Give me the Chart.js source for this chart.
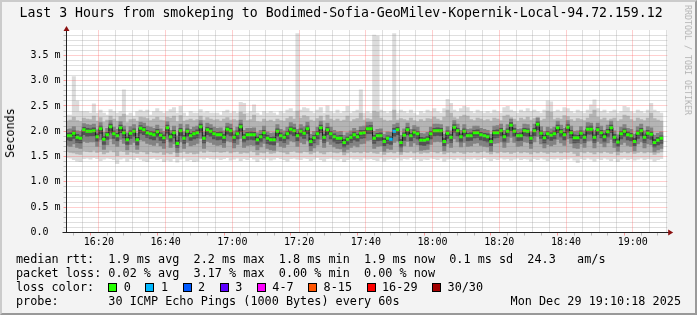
<!DOCTYPE html>
<html><head><meta charset="utf-8">
<script src="https://cdn.jsdelivr.net/npm/chart.js@4.4.1/dist/chart.umd.min.js"></script>
<style>
html,body{margin:0;padding:0;background:#f3f3f3;}
#wrap{position:relative;width:697px;height:315px;overflow:hidden;font-family:"DejaVu Sans Mono",monospace;color:#000;background:#f3f3f3;}
#c{position:absolute;left:0;top:0;}
.t{position:absolute;white-space:pre;font-size:11.8px;line-height:14px;}
#title{position:absolute;left:19.5px;top:5px;font-size:13.2px;line-height:16px;white-space:pre;}
#ytitle{position:absolute;left:10px;top:132.5px;transform:translate(-50%,-50%) rotate(-90deg);font-size:11.8px;white-space:pre;}
#rrd{position:absolute;left:688px;top:60px;transform:translate(-50%,-50%) rotate(90deg);font-size:8.3px;color:#b4b4b4;white-space:pre;}
#lossrow{position:absolute;left:16px;top:280px;height:14px;display:flex;align-items:center;font-size:11.8px;white-space:pre;}
.box{display:inline-block;width:7px;height:7px;border:1px solid #000;margin-left:0;margin-right:6.5px;}
.lbl{margin-right:14.5px;}
#frame{position:absolute;left:0;top:0;width:697px;height:315px;box-sizing:border-box;border-left:2px solid #cbcbcb;border-top:2px solid #cbcbcb;border-right:2px solid #999;border-bottom:2px solid #999;pointer-events:none;}
</style></head>
<body>
<div id="wrap">
<canvas id="c" width="697" height="315"></canvas>
<div id="title">Last 3 Hours from smokeping to Bodimed-Sofia-GeoMilev-Kopernik-Local-94.72.159.12</div>
<div id="ytitle">Seconds</div>
<div id="rrd">RRDTOOL / TOBI OETIKER</div>
<div class="t" style="left:16px;top:252px;">median rtt:  1.9 ms avg  2.2 ms max  1.8 ms min  1.9 ms now  0.1 ms sd  24.3   am/s</div>
<div class="t" style="left:16px;top:266px;">packet loss: 0.02 % avg  3.17 % max  0.00 % min  0.00 % now</div>
<div id="lossrow"></div>
<div class="t" style="left:16px;top:294px;">probe:       30 ICMP Echo Pings (1000 Bytes) every 60s</div>
<div class="t" style="right:16px;top:294px;">Mon Dec 29 19:10:18 2025</div>
<div id="frame"></div>
</div>
<script>
// ---- data (minutes after 16:00; one bin per minute, first bin 16:10) ----
const FIRST_BIN = 10;
const X_MIN = 10.3, X_MAX = 190.3;   // 16:10:18 .. 19:10:18
// median rtt (ms)
const median = [
1.91,1.91,1.96,1.88,1.86,2.03,2.00,2.00,2.01,1.89,
2.05,1.84,1.93,2.09,1.95,1.91,2.07,1.97,1.83,1.96,
2.00,1.83,2.06,2.03,1.97,1.95,1.93,1.99,1.92,1.87,
2.07,1.89,1.97,1.76,2.01,1.86,2.00,1.91,1.95,1.97,
2.09,1.86,2.03,2.00,1.95,1.93,1.93,1.88,2.04,2.01,
1.88,1.95,2.09,1.88,1.93,1.93,1.93,1.83,1.89,1.97,
1.86,1.83,1.83,2.00,1.91,1.88,1.95,2.04,2.01,1.91,
2.00,1.96,2.05,1.80,1.87,1.95,2.07,1.88,2.03,1.95,
1.89,1.86,1.86,1.78,1.84,1.88,1.93,1.89,1.96,1.97,
2.05,2.05,1.86,1.91,1.91,1.80,1.86,1.84,2.00,2.03,
1.78,1.92,2.03,1.91,1.98,1.95,1.82,1.82,1.84,1.95,
2.01,2.01,2.01,1.80,1.96,1.88,2.08,2.01,1.89,2.00,
1.91,1.91,1.97,1.97,1.93,1.91,1.89,1.80,1.97,1.97,
2.01,1.89,2.00,2.12,2.00,1.91,1.91,2.01,2.00,1.86,
2.01,2.14,1.96,1.87,1.95,1.92,1.95,2.07,1.99,1.93,
2.08,1.97,1.87,1.87,1.96,1.88,2.04,2.04,1.88,2.03,
1.97,1.89,1.99,2.07,1.88,1.79,1.95,2.00,1.93,1.91,
1.80,1.96,2.01,1.88,1.96,1.94,1.78,1.82,1.86];
// smoke: outer band (lightest)
const smokeOuterHi = [
2.32,2.32,3.08,2.60,2.39,2.39,2.39,2.36,2.54,2.36,
2.42,2.36,2.32,2.43,2.39,2.36,2.39,2.82,2.32,2.36,
2.30,2.39,2.42,2.39,2.42,2.32,2.39,2.45,2.39,2.36,
2.39,2.43,2.47,2.36,2.49,2.36,2.30,2.39,2.36,2.36,
2.43,2.37,2.39,2.36,2.36,2.36,2.32,2.39,2.42,2.36,
2.39,2.36,2.57,2.55,2.36,2.39,2.52,2.36,2.32,2.39,
2.36,2.39,2.36,2.32,2.39,2.36,2.42,2.45,2.39,3.93,
2.42,2.47,2.45,2.39,2.36,2.42,2.47,2.36,2.50,2.39,
2.36,2.42,2.36,2.39,2.49,2.36,2.39,2.42,2.82,2.36,
2.39,2.36,3.90,3.88,2.42,2.39,2.36,2.39,3.93,2.36,
2.42,2.39,2.36,2.42,2.36,2.32,2.39,2.36,2.42,2.39,
2.45,2.39,2.36,2.45,2.63,2.55,2.42,2.39,2.45,2.49,
2.47,2.39,2.36,2.42,2.39,2.36,2.39,2.36,2.42,2.39,
2.36,2.47,2.49,2.42,2.39,2.36,2.42,2.39,2.45,2.39,
2.42,2.39,2.36,2.42,2.60,2.58,2.39,2.42,2.39,2.47,
2.45,2.39,2.36,2.42,2.39,2.36,2.42,2.52,2.62,2.45,
2.39,2.42,2.36,2.39,2.42,2.36,2.39,2.49,2.47,2.39,
2.36,2.42,2.39,2.36,2.42,2.55,2.42,2.39,2.36];
const smokeOuterLo = [
1.48,1.47,1.44,1.41,1.40,1.46,1.47,1.45,1.48,1.46,
1.42,1.45,1.47,1.46,1.44,1.36,1.45,1.47,1.41,1.46,
1.44,1.48,1.45,1.42,1.40,1.46,1.47,1.44,1.46,1.40,
1.43,1.41,1.46,1.39,1.45,1.47,1.42,1.44,1.40,1.41,
1.47,1.45,1.48,1.46,1.45,1.47,1.44,1.46,1.48,1.43,
1.45,1.47,1.42,1.46,1.44,1.48,1.45,1.40,1.46,1.44,
1.47,1.43,1.45,1.48,1.46,1.44,1.41,1.46,1.47,1.45,
1.44,1.47,1.46,1.42,1.45,1.48,1.44,1.41,1.46,1.47,
1.45,1.43,1.46,1.40,1.44,1.47,1.45,1.46,1.43,1.47,
1.45,1.46,1.44,1.42,1.47,1.41,1.45,1.46,1.44,1.47,
1.43,1.46,1.45,1.48,1.44,1.46,1.42,1.45,1.44,1.47,
1.46,1.44,1.47,1.41,1.45,1.46,1.44,1.47,1.45,1.43,
1.46,1.45,1.47,1.44,1.46,1.48,1.45,1.42,1.46,1.44,
1.47,1.45,1.46,1.43,1.45,1.47,1.44,1.46,1.45,1.41,
1.46,1.44,1.47,1.45,1.42,1.46,1.45,1.47,1.44,1.46,
1.45,1.47,1.43,1.38,1.46,1.44,1.47,1.45,1.41,1.46,
1.44,1.47,1.45,1.42,1.46,1.40,1.45,1.47,1.44,1.46,
1.43,1.45,1.47,1.44,1.46,1.45,1.41,1.44,1.46];
// smoke: middle band
const smokeMidHi = [
2.20,2.22,2.28,2.21,2.19,2.26,2.24,2.23,2.30,2.20,
2.27,2.18,2.22,2.30,2.24,2.20,2.29,2.34,2.17,2.23,
2.24,2.20,2.28,2.27,2.25,2.21,2.24,2.28,2.22,2.21,
2.28,2.26,2.30,2.19,2.31,2.20,2.22,2.24,2.21,2.23,
2.30,2.22,2.27,2.24,2.22,2.23,2.20,2.24,2.27,2.22,
2.23,2.21,2.38,2.34,2.21,2.23,2.32,2.19,2.18,2.24,
2.20,2.22,2.19,2.24,2.21,2.20,2.25,2.29,2.24,2.40,
2.26,2.31,2.29,2.22,2.20,2.25,2.30,2.21,2.32,2.24,
2.21,2.24,2.20,2.22,2.30,2.19,2.23,2.25,2.36,2.22,
2.25,2.23,2.40,2.38,2.26,2.22,2.20,2.21,2.42,2.22,
2.25,2.23,2.21,2.26,2.21,2.19,2.23,2.20,2.25,2.24,
2.28,2.24,2.21,2.28,2.42,2.36,2.27,2.24,2.29,2.32,
2.30,2.23,2.21,2.26,2.24,2.21,2.23,2.20,2.26,2.24,
2.21,2.30,2.32,2.27,2.24,2.20,2.26,2.23,2.28,2.22,
2.25,2.28,2.21,2.24,2.40,2.38,2.23,2.26,2.24,2.31,
2.29,2.23,2.20,2.25,2.23,2.21,2.26,2.34,2.42,2.28,
2.23,2.26,2.21,2.24,2.26,2.20,2.23,2.32,2.30,2.23,
2.20,2.26,2.23,2.21,2.26,2.36,2.25,2.22,2.20];
const smokeMidLo = [
1.60,1.58,1.57,1.55,1.54,1.61,1.60,1.59,1.62,1.58,
1.60,1.55,1.58,1.62,1.59,1.52,1.61,1.60,1.54,1.59,
1.58,1.56,1.60,1.59,1.55,1.60,1.58,1.57,1.59,1.54,
1.57,1.55,1.59,1.50,1.58,1.60,1.56,1.58,1.55,1.56,
1.61,1.58,1.62,1.60,1.59,1.60,1.58,1.59,1.61,1.57,
1.59,1.60,1.56,1.58,1.57,1.61,1.59,1.53,1.58,1.57,
1.60,1.56,1.57,1.61,1.59,1.58,1.55,1.60,1.61,1.58,
1.57,1.60,1.59,1.55,1.58,1.61,1.57,1.55,1.59,1.60,
1.58,1.57,1.59,1.53,1.57,1.60,1.58,1.59,1.57,1.60,
1.58,1.60,1.57,1.56,1.60,1.54,1.58,1.59,1.57,1.60,
1.54,1.59,1.58,1.61,1.57,1.59,1.56,1.58,1.57,1.60,
1.59,1.57,1.60,1.55,1.58,1.59,1.57,1.60,1.58,1.56,
1.59,1.58,1.60,1.57,1.59,1.61,1.58,1.55,1.59,1.57,
1.60,1.58,1.59,1.56,1.58,1.60,1.57,1.59,1.58,1.55,
1.59,1.57,1.60,1.58,1.56,1.59,1.58,1.60,1.57,1.59,
1.58,1.60,1.56,1.52,1.59,1.57,1.60,1.58,1.55,1.59,
1.57,1.60,1.58,1.56,1.59,1.53,1.58,1.60,1.57,1.59,
1.56,1.58,1.60,1.57,1.59,1.58,1.54,1.57,1.59];
// smoke: inner band
const smokeInnerHi = [
2.04,2.05,2.09,2.01,2.00,2.15,2.13,2.12,2.14,2.03,
2.17,1.98,2.06,2.21,2.08,2.04,2.19,2.10,1.97,2.09,
2.13,1.96,2.18,2.16,2.10,2.08,2.06,2.12,2.05,2.00,
2.19,2.02,2.10,1.91,2.14,1.99,2.13,2.04,2.08,2.10,
2.21,1.99,2.16,2.13,2.08,2.06,2.07,2.01,2.16,2.14,
2.01,2.08,2.22,2.02,2.06,2.06,2.07,1.97,2.02,2.10,
1.99,1.96,1.97,2.13,2.04,2.01,2.08,2.17,2.14,2.04,
2.13,2.09,2.18,1.94,2.00,2.08,2.20,2.01,2.16,2.08,
2.02,1.99,2.00,1.92,1.97,2.01,2.06,2.02,2.09,2.10,
2.18,2.18,2.00,2.04,2.05,1.94,1.99,1.98,2.13,2.16,
1.92,2.05,2.16,2.04,2.11,2.08,1.96,1.95,1.98,2.08,
2.14,2.14,2.13,1.94,2.09,2.01,2.21,2.14,2.02,2.13,
2.04,2.05,2.10,2.10,2.06,2.04,2.02,1.94,2.10,2.11,
2.14,2.02,2.13,2.24,2.13,2.04,2.05,2.14,2.13,1.99,
2.14,2.26,2.09,2.00,2.08,2.05,2.08,2.20,2.12,2.06,
2.21,2.10,2.00,2.01,2.09,2.01,2.17,2.16,2.01,2.16,
2.10,2.02,2.12,2.20,2.01,1.93,2.08,2.13,2.06,2.04,
1.94,2.09,2.14,2.01,2.09,2.07,1.92,1.96,1.99];
const smokeInnerLo = [
1.72,1.70,1.75,1.68,1.66,1.80,1.78,1.79,1.79,1.70,
1.83,1.64,1.73,1.85,1.75,1.70,1.84,1.76,1.63,1.74,
1.78,1.64,1.83,1.81,1.76,1.74,1.72,1.77,1.71,1.66,
1.84,1.68,1.75,1.58,1.79,1.66,1.78,1.71,1.73,1.76,
1.86,1.66,1.80,1.78,1.74,1.72,1.73,1.68,1.81,1.79,
1.67,1.74,1.86,1.68,1.72,1.73,1.72,1.63,1.69,1.76,
1.66,1.63,1.62,1.78,1.70,1.68,1.74,1.81,1.79,1.70,
1.78,1.75,1.82,1.61,1.67,1.73,1.84,1.68,1.80,1.74,
1.69,1.66,1.65,1.59,1.64,1.68,1.72,1.69,1.75,1.76,
1.82,1.83,1.66,1.70,1.71,1.60,1.66,1.64,1.78,1.81,
1.59,1.71,1.80,1.70,1.77,1.73,1.62,1.63,1.64,1.74,
1.79,1.80,1.79,1.61,1.75,1.68,1.85,1.79,1.69,1.78,
1.70,1.71,1.76,1.77,1.72,1.70,1.69,1.60,1.76,1.77,
1.79,1.68,1.78,1.88,1.78,1.70,1.71,1.79,1.78,1.66,
1.79,1.90,1.75,1.67,1.74,1.71,1.74,1.84,1.77,1.72,
1.85,1.76,1.67,1.66,1.75,1.68,1.81,1.82,1.67,1.80,
1.76,1.69,1.77,1.84,1.68,1.60,1.74,1.78,1.72,1.70,
1.61,1.75,1.79,1.67,1.75,1.73,1.59,1.63,1.66];
// smoke: core band (darkest)
const smokeCoreHi = [
1.96,1.97,2.01,1.94,1.91,2.08,2.06,2.05,2.07,1.95,
2.10,1.90,1.98,2.14,2.01,1.96,2.12,2.03,1.89,2.01,
2.05,1.88,2.11,2.08,2.02,2.00,1.99,2.04,1.97,1.93,
2.12,1.95,2.02,1.82,2.06,1.92,2.05,1.96,2.00,2.03,
2.14,1.92,2.08,2.06,2.00,1.98,1.99,1.94,2.09,2.06,
1.93,2.01,2.14,1.94,1.98,1.99,1.98,1.89,1.94,2.02,
1.92,1.88,1.89,2.05,1.97,1.93,2.00,2.09,2.07,1.96,
2.05,2.01,2.10,1.86,1.92,2.00,2.12,1.94,2.08,2.00,
1.95,1.91,1.92,1.84,1.89,1.93,1.99,1.94,2.02,2.02,
2.10,2.11,1.92,1.96,1.97,1.86,1.91,1.90,2.06,2.08,
1.84,1.97,2.08,1.96,2.03,2.00,1.88,1.87,1.90,2.00,
2.06,2.07,2.06,1.86,2.01,1.94,2.13,2.06,1.95,2.05,
1.96,1.97,2.02,2.03,1.98,1.96,1.95,1.86,2.02,2.03,
2.06,1.94,2.05,2.17,2.06,1.96,1.97,2.06,2.05,1.92,
2.06,2.19,2.01,1.92,2.00,1.97,2.01,2.12,2.04,1.98,
2.13,2.02,1.93,1.92,2.01,1.94,2.09,2.10,1.93,2.08,
2.02,1.95,2.04,2.12,1.94,1.85,2.00,2.05,1.99,1.96,
1.86,2.01,2.06,1.93,2.02,1.99,1.84,1.88,1.91];
const smokeCoreLo = [
1.83,1.81,1.86,1.78,1.77,1.93,1.90,1.91,1.91,1.80,
1.95,1.74,1.84,1.98,1.86,1.81,1.97,1.87,1.74,1.86,
1.90,1.73,1.96,1.93,1.88,1.85,1.83,1.89,1.82,1.77,
1.96,1.79,1.87,1.68,1.91,1.76,1.90,1.82,1.85,1.87,
1.98,1.77,1.93,1.90,1.85,1.83,1.84,1.78,1.94,1.91,
1.78,1.85,1.99,1.79,1.83,1.84,1.83,1.74,1.79,1.87,
1.76,1.74,1.73,1.90,1.81,1.78,1.85,1.94,1.91,1.81,
1.90,1.86,1.95,1.71,1.77,1.85,1.97,1.78,1.93,1.85,
1.79,1.76,1.77,1.69,1.74,1.78,1.83,1.80,1.86,1.87,
1.95,1.95,1.76,1.81,1.82,1.71,1.76,1.74,1.90,1.93,
1.69,1.82,1.93,1.81,1.88,1.85,1.73,1.72,1.75,1.85,
1.91,1.92,1.91,1.71,1.86,1.78,1.98,1.91,1.79,1.90,
1.81,1.82,1.87,1.88,1.83,1.81,1.79,1.71,1.87,1.88,
1.91,1.79,1.90,2.01,1.90,1.81,1.82,1.91,1.90,1.76,
1.91,2.03,1.86,1.77,1.85,1.82,1.85,1.97,1.89,1.83,
1.98,1.87,1.77,1.78,1.86,1.78,1.94,1.94,1.78,1.93,
1.87,1.79,1.89,1.97,1.78,1.70,1.85,1.90,1.83,1.81,
1.71,1.86,1.91,1.78,1.86,1.84,1.69,1.73,1.76];
// lost pings per bin (all others 0)
const lossBins = [107, 108];
const lossCounts = [1, 1];
// loss colour legend
const lossLegendLabels = ['0','1','2','3','4-7','8-15','16-29','30/30'];
const lossLegendColors = ['#26ff00','#00b8ff','#0059ff','#5e00ff','#ff00ff','#ff5500','#ff0000','#a10000'];
// axis ticks
const xGridMinutes = [15,20,25,30,35,40,45,50,55,60,65,70,75,80,85,90,95,100,105,110,115,120,125,130,135,140,145,150,155,160,165,170,175,180,185,190];
const xTickMinutes = [20,40,60,80,100,120,140,160,180];
const xTickLabels = ['16:20','16:40','17:00','17:20','17:40','18:00','18:20','18:40','19:00'];
const yGridValues = [0.1,0.2,0.3,0.4,0.5,0.6,0.7,0.8,0.9,1.0,1.1,1.2,1.3,1.4,1.5,1.6,1.7,1.8,1.9,2.0,2.1,2.2,2.3,2.4,2.5,2.6,2.7,2.8,2.9,3.0,3.1,3.2,3.3,3.4,3.5,3.6,3.7,3.8,3.9];
const yTickValues = [0,0.5,1.0,1.5,2.0,2.5,3.0,3.5];
const yTickLabels = ['0.0  ','0.5 m','1.0 m','1.5 m','2.0 m','2.5 m','3.0 m','3.5 m'];

// ---- legend row (loss colours) ----
const row = document.getElementById('lossrow');
row.innerHTML = '<span>loss color:  </span>' + lossLegendLabels.map((l,i)=>
  '<span class="box" style="background:'+lossLegendColors[i]+'"></span><span class="lbl">'+l+'</span>').join('');

// ---- chart ----
const xs = median.map((_, i) => FIRST_BIN + i + 0.5);
const band = (lo, hi) => lo.map((l, i) => ({x: xs[i], y: [l, hi[i]]}));
function lossColor(i){
  const k = lossBins.indexOf(FIRST_BIN + i);
  const n = k < 0 ? 0 : lossCounts[k];
  let idx = 0;
  if (n >= 30) idx = 7; else if (n >= 16) idx = 6; else if (n >= 8) idx = 5; else if (n >= 4) idx = 4; else idx = n;
  return lossLegendColors[idx];
}
const barCommon = {type:'bar', grouped:false, barPercentage:1, categoryPercentage:1, borderWidth:0};
const RED = 'rgba(255,80,80,0.55)', GREY = 'rgba(140,140,140,0.55)';
const isMajorX = v => xTickMinutes.includes(v);
const isMajorY = v => yTickValues.some(t => Math.abs(t - v) < 1e-6);
const align = p => Math.round(p - 0.5) + 0.5;
const bgPlugin = {
  id:'bg',
  beforeDraw(chart){
    const {ctx, chartArea:a} = chart;
    ctx.save(); ctx.fillStyle = '#ffffff';
    ctx.fillRect(a.left, a.top, a.right - a.left, a.bottom - a.top);
    ctx.restore();
  },
  afterDatasetsDraw(chart){
    const {ctx, chartArea:a, scales:{x:xS, y:yS}} = chart;
    ctx.save(); ctx.lineWidth = 1; ctx.setLineDash([1,1]);
    yS.ticks.forEach(t => {
      const py = align(yS.getPixelForValue(t.value));
      ctx.strokeStyle = isMajorY(t.value) ? RED : GREY;
      ctx.beginPath(); ctx.moveTo(a.left, py); ctx.lineTo(a.right, py); ctx.stroke();
    });
    xS.ticks.forEach(t => {
      const px = align(xS.getPixelForValue(t.value));
      ctx.strokeStyle = isMajorX(t.value) ? RED : GREY;
      ctx.beginPath(); ctx.moveTo(px, a.bottom); ctx.lineTo(px, a.top); ctx.stroke();
    });
    ctx.restore();
  },
  afterDraw(chart){
    const {ctx, chartArea:a} = chart;
    ctx.save();
    ctx.strokeStyle = '#222222'; ctx.lineWidth = 1;
    const ax = Math.floor(a.left) + 0.5, ay = Math.floor(a.bottom) + 0.5;
    ctx.beginPath(); ctx.moveTo(ax, ay); ctx.lineTo(ax, a.top - 1); ctx.stroke();
    ctx.beginPath(); ctx.moveTo(ax - 4, ay); ctx.lineTo(a.right + 2, ay); ctx.stroke();
    ctx.fillStyle = '#8b1010';
    ctx.beginPath(); ctx.moveTo(ax - 3, a.top + 1); ctx.lineTo(ax + 3, a.top + 1); ctx.lineTo(ax, a.top - 4); ctx.closePath(); ctx.fill();
    ctx.beginPath(); ctx.moveTo(a.right + 1, ay - 3); ctx.lineTo(a.right + 1, ay + 3); ctx.lineTo(a.right + 6, ay); ctx.closePath(); ctx.fill();
    ctx.restore();
  }
};
new Chart(document.getElementById('c'), {
  data: {datasets: [
    {...barCommon, data: band(smokeOuterLo, smokeOuterHi), backgroundColor:'#dcdcdc', order:6},
    {...barCommon, data: band(smokeMidLo, smokeMidHi), backgroundColor:'#b4b4b4', order:5},
    {...barCommon, data: band(smokeInnerLo, smokeInnerHi), backgroundColor:'#828282', order:4},
    {...barCommon, data: band(smokeCoreLo, smokeCoreHi), backgroundColor:'#525252', order:3},
    {type:'line', data: median.map((v,i)=>({x:xs[i], y:v})), stepped:'middle', borderColor:'#1a1a1a', borderWidth:1, pointRadius:0, order:2},
    {type:'line', data: median.map((v,i)=>({x:xs[i], y:v})), showLine:false, pointStyle:'line', pointRadius:1.75, pointBorderWidth:3,
      pointBorderColor: c => lossColor(c.dataIndex), pointBackgroundColor: c => lossColor(c.dataIndex), order:1}
  ]},
  options: {
    responsive:false, animation:false, devicePixelRatio:1,
    layout:{padding:{top:30, right:29.8, left:0, bottom:0}},
    plugins:{legend:{display:false}, tooltip:{enabled:false}},
    scales:{
      x:{type:'linear', min:X_MIN, max:X_MAX, offset:false, z:1,
        afterBuildTicks: s => { s.ticks = xGridMinutes.map(v => ({value:v})); },
        afterFit: s => { s.height = 82.5; },
        ticks:{autoSkip:false, maxRotation:0, padding:1, color:'#000', font:{family:'DejaVu Sans Mono', size:10},
          callback: v => { const k = xTickMinutes.indexOf(v); return k < 0 ? '' : xTickLabels[k]; }},
        grid:{drawOnChartArea:false, color: c => (c.tick && isMajorX(c.tick.value)) ? RED : GREY, tickLength:3, drawTicks:true},
        border:{display:false}
      },
      y:{type:'linear', min:0, max:4.0, z:1,
        afterBuildTicks: s => { s.ticks = [0].concat(yGridValues).map(v => ({value:v})); },
        afterFit: s => { s.width = 66.5; },
        ticks:{autoSkip:false, padding:3, color:'#000', font:{family:'DejaVu Sans Mono', size:10},
          callback: v => { const k = yTickValues.findIndex(t => Math.abs(t - v) < 1e-6); return k < 0 ? '' : yTickLabels[k]; }},
        grid:{drawOnChartArea:false, color: c => (c.tick && isMajorY(c.tick.value)) ? RED : GREY, tickLength:3, drawTicks:true},
        border:{display:false}
      }
    }
  },
  plugins:[bgPlugin]
});
</script>
</body></html>
